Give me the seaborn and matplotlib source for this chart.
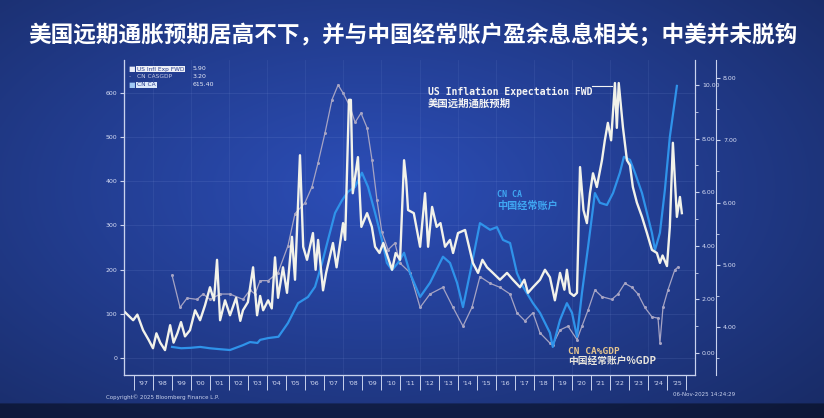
import numpy as np
import pandas as pd
import seaborn as sns
import matplotlib.pyplot as plt
from matplotlib.ticker import FixedLocator, FormatStrFormatter, MultipleLocator

# US inflation expectation FWD (right outer axis)
us_years = [1996.45, 1996.98, 1997.2, 1997.5, 1997.8, 1998.02, 1998.2, 1998.4, 1998.65, 1998.92,
            1999.1, 1999.3, 1999.49, 1999.7, 1999.96, 2000.23, 2000.49, 2000.75, 2001.01, 2001.22,
            2001.38, 2001.54, 2001.8, 2002.06, 2002.38, 2002.6, 2002.74, 2003.0, 2003.27, 2003.48,
            2003.64, 2003.8, 2004.06, 2004.25, 2004.42, 2004.58, 2004.84, 2005.05, 2005.31, 2005.47,
            2005.73, 2005.9, 2006.1, 2006.41, 2006.55, 2006.68, 2006.94, 2007.1, 2007.46, 2007.65,
            2007.99, 2008.1, 2008.3, 2008.4, 2008.5, 2008.77, 2008.95, 2009.25, 2009.5, 2009.67,
            2009.9, 2010.1, 2010.56, 2010.75, 2010.98, 2011.19, 2011.3, 2011.4, 2011.7, 2012.03,
            2012.29, 2012.45, 2012.66, 2012.9, 2013.1, 2013.34, 2013.6, 2013.76, 2014.02, 2014.39,
            2014.6, 2014.8, 2015.07, 2015.3, 2015.54, 2015.85, 2016.22, 2016.59, 2016.9, 2017.27,
            2017.5, 2017.69, 2017.95, 2018.32, 2018.58, 2018.84, 2019.1, 2019.37, 2019.6, 2019.73,
            2019.89, 2020.1, 2020.26, 2020.42, 2020.6, 2020.78, 2020.94, 2021.1, 2021.3, 2021.57,
            2021.72, 2021.88, 2022.05, 2022.25, 2022.35, 2022.45, 2022.67, 2022.88, 2023.04, 2023.19,
            2023.4, 2023.67, 2023.93, 2024.19, 2024.45, 2024.61, 2024.75, 2024.98, 2025.13, 2025.29,
            2025.5, 2025.66, 2025.76]
us_exp = [4.27, 4.11, 4.2, 3.95, 3.79, 3.66, 3.9, 3.75, 3.63, 4.03,
          3.75, 3.9, 4.08, 3.85, 3.95, 4.27, 4.11, 4.35, 4.64, 4.43,
          5.08, 4.11, 4.43, 4.19, 4.47, 4.1, 4.27, 4.4, 4.96, 4.19,
          4.5, 4.27, 4.43, 4.3, 5.12, 4.47, 4.96, 4.55, 5.45, 4.76,
          6.76, 5.29, 5.08, 5.51, 4.92, 5.4, 4.59, 4.87, 5.35, 4.96,
          5.67, 5.4, 7.65, 7.65, 6.15, 6.73, 5.61, 5.83, 5.61, 5.29,
          5.19, 5.35, 4.92, 5.19, 5.08, 6.68, 6.36, 5.88, 5.83, 5.29,
          6.15, 5.29, 5.93, 5.61, 5.67, 5.29, 5.4, 5.19, 5.51, 5.56,
          5.29, 5.03, 4.87, 5.08, 4.96, 4.87, 4.76, 4.87, 4.76, 4.64,
          4.76, 4.55, 4.64, 4.76, 4.92, 4.8, 4.43, 4.87, 4.6, 4.92,
          4.55, 4.5, 4.55, 6.57, 5.88, 5.67, 6.15, 6.47, 6.25, 6.68,
          7.0, 7.28, 7.0, 7.92, 7.2, 7.92, 7.21, 6.68, 6.6, 6.25,
          6.0, 5.77, 5.51, 5.24, 5.19, 5.03, 5.15, 4.98, 5.61, 6.96,
          5.77, 6.09, 5.83]

# China current account (left axis)
ca_years = [1999.02, 1999.5, 2000.0, 2000.5, 2001.0, 2001.5, 2002.06, 2002.74, 2003.11, 2003.5,
            2003.64, 2004.06, 2004.6, 2005.1, 2005.63, 2006.15, 2006.52, 2006.89, 2007.2, 2007.57,
            2007.94, 2008.25, 2008.62, 2008.98, 2009.3, 2009.67, 2010.03, 2010.29, 2010.56, 2010.87,
            2011.19, 2011.5, 2012.03, 2012.55, 2013.23, 2013.6, 2013.97, 2014.28, 2014.65, 2015.17,
            2015.7, 2016.06, 2016.38, 2016.75, 2017.11, 2017.43, 2017.95, 2018.32, 2018.84, 2018.99,
            2019.37, 2019.73, 2020.0, 2020.26, 2020.52, 2020.84, 2021.2, 2021.46, 2021.83, 2022.15,
            2022.51, 2022.72, 2023.04, 2023.3, 2023.67, 2023.93, 2024.19, 2024.35, 2024.61, 2024.87,
            2025.13, 2025.5]
cn_ca = [25, 22, 23, 25, 22, 20, 18, 29, 36, 34,
         41, 45, 48, 79, 124, 138, 161, 215, 267, 328,
         357, 376, 387, 419, 387, 328, 267, 215, 199, 215,
         238, 192, 138, 170, 229, 215, 170, 115, 192, 305,
         290, 296, 267, 260, 192, 161, 124, 102, 57, 25,
         86, 124, 102, 48, 147, 251, 373, 351, 346, 373,
         419, 455, 448, 419, 373, 328, 283, 244, 283, 380,
         500, 615.4]

# China current account % GDP (right inner axis)
gdp_years = [1999.02, 1999.44, 1999.81, 2000.33, 2000.65, 2001.01, 2001.54, 2002.06, 2002.74, 2003.11,
             2003.37, 2003.64, 2004.06, 2004.58, 2005.1, 2005.47, 2005.99, 2006.36, 2006.68, 2007.04,
             2007.41, 2007.73, 2007.99, 2008.35, 2008.62, 2008.93, 2009.25, 2009.51, 2009.77, 2010.03,
             2010.35, 2010.71, 2010.98, 2011.5, 2012.03, 2012.55, 2013.23, 2013.76, 2014.28, 2014.75,
             2015.17, 2015.7, 2016.22, 2016.75, 2017.11, 2017.53, 2017.95, 2018.32, 2018.84, 2018.99,
             2019.37, 2019.79, 2020.26, 2020.52, 2020.84, 2021.2, 2021.57, 2022.09, 2022.41, 2022.77,
             2023.14, 2023.46, 2023.82, 2024.19, 2024.51, 2024.61, 2024.77, 2025.03, 2025.39, 2025.55]
cn_ca_gdp = [2.9, 1.7, 2.05, 2.0, 2.2, 2.0, 2.2, 2.2, 2.0, 2.35,
             2.2, 2.7, 2.7, 3.0, 4.0, 5.2, 5.6, 6.2, 7.1, 8.2,
             9.45, 10.0, 9.7, 9.2, 8.6, 8.95, 8.4, 7.2, 5.7, 4.5,
             3.85, 4.1, 3.35, 3.0, 1.7, 2.2, 2.45, 1.7, 1.0, 1.7,
             2.85, 2.6, 2.45, 2.2, 1.5, 1.2, 1.5, 0.75, 0.37, 0.3,
             0.86, 1.0, 0.5, 1.0, 1.6, 2.35, 2.1, 2.0, 2.2, 2.6,
             2.45, 2.2, 1.7, 1.35, 1.3, 0.37, 1.7, 2.35, 3.1, 3.2]

year_labels = ["'%02d" % (y % 100) for y in range(1997, 2026)]
title = "美国远期通胀预期居高不下，并与中国经常账户盈余息息相关；中美并未脱钩"

W, H = 824, 418
def fx(x):
    return x / W
def fy(y):
    return 1 - y / H

cjk = ['Noto Sans CJK SC', 'DejaVu Sans']
mono = ['DejaVu Sans Mono', 'Noto Sans CJK SC']
axis_col = '#c9d2ee'

fig = plt.figure(figsize=(8.24, 4.18), dpi=100)

# screen-like blue background
bg = fig.add_axes([0, 0, 1, 1])
yy, xx = np.mgrid[0:1:200j, 0:1:400j]
r = np.sqrt(((xx - 0.45) / 0.75) ** 2 + ((yy - 0.45) / 0.8) ** 2)
shade = np.clip(1 - 0.45 * r, 0, 1)
base = np.array([44, 78, 184]) / 255
img = shade[..., None] * base[None, None, :]
img[yy > 0.965] *= 0.55
bg.imshow(img, aspect='auto', extent=[0, 1, 0, 1], origin='upper')
bg.axis('off')

ax = fig.add_axes([fx(124), fy(375), fx(695) - fx(124), fy(60) - fy(375)])
ax_m = ax.twinx()
ax_r = ax.twinx()
ax_r.spines['right'].set_position(('axes', (716 - 124) / (695 - 124)))
for a in (ax, ax_m, ax_r):
    a.patch.set_visible(False)
    for s in a.spines.values():
        s.set_color(axis_col)
        s.set_linewidth(0.8)
    a.spines['top'].set_visible(False)
ax_m.set_zorder(1)
ax.set_zorder(2)
ax_r.set_zorder(3)

df_gdp = pd.DataFrame({'year': gdp_years, 'value': cn_ca_gdp})
df_ca = pd.DataFrame({'year': ca_years, 'value': cn_ca})
df_us = pd.DataFrame({'year': us_years, 'value': us_exp})

sns.lineplot(data=df_gdp, x='year', y='value', ax=ax_m, color='#a6a4c4', linewidth=0.9,
             marker='o', markersize=2.2, markeredgewidth=0, estimator=None)
sns.lineplot(data=df_ca, x='year', y='value', ax=ax, color='#2f93ea', linewidth=1.6, estimator=None)
sns.lineplot(data=df_us, x='year', y='value', ax=ax_r, color='#f2f2ea', linewidth=1.7, estimator=None)

ax.set_xlim(1996.5, 2026.45)
ax.set_ylim(-38.5, 674)
ax_m.set_ylim(-0.82, 10.93)
ax_r.set_ylim(3.23, 8.29)

ax.xaxis.set_major_locator(FixedLocator(range(1997, 2027)))
ax.xaxis.set_minor_locator(FixedLocator([y + 0.5 for y in range(1997, 2026)]))
ax.set_xticklabels([], minor=False)
ax.set_xticklabels(year_labels, minor=True)
ax.tick_params(axis='x', which='major', length=11, color=axis_col, width=0.7)
ax.tick_params(axis='x', which='minor', length=0, labelsize=4.5, labelcolor='#d8def5', pad=4)

ax.yaxis.set_major_locator(MultipleLocator(100))
ax.tick_params(axis='y', length=3, color=axis_col, labelsize=4.5, labelcolor='#d8def5', pad=2)
ax_m.yaxis.set_major_locator(MultipleLocator(2))
ax_m.yaxis.set_minor_locator(MultipleLocator(1))
ax_m.yaxis.set_major_formatter(FormatStrFormatter('%.2f'))
ax_m.tick_params(axis='y', which='both', color=axis_col, labelsize=4.5, labelcolor='#d8def5', pad=2)
ax_m.tick_params(axis='y', which='major', length=3)
ax_m.tick_params(axis='y', which='minor', length=2)
ax_r.yaxis.set_major_locator(MultipleLocator(1))
ax_r.yaxis.set_minor_locator(MultipleLocator(0.5))
ax_r.yaxis.set_major_formatter(FormatStrFormatter('%.2f'))
ax_r.tick_params(axis='y', which='both', color=axis_col, labelsize=4.5, labelcolor='#d8def5', pad=2)
ax_r.tick_params(axis='y', which='major', length=3)
ax_r.tick_params(axis='y', which='minor', length=2)
for a in (ax, ax_m, ax_r):
    a.set_xlabel('')
    a.set_ylabel('')

ax.grid(True, axis='y', color='#8fa6e6', alpha=0.15, linewidth=0.6)
for gx in range(1998, 2026, 2):
    ax.axvline(gx, color='#8fa6e6', alpha=0.12, linewidth=0.6, zorder=0)

# title
fig.text(fx(28), fy(35), title, fontsize=16.3, color='white', fontweight='bold',
         family=cjk, va='center', ha='left')

# legend block
fig.text(fx(128), fy(69), '■', fontsize=5, color='#e8ecf8', va='center', family='DejaVu Sans')
fig.text(fx(137), fy(69), 'US Infl Exp FWD', fontsize=4.2, color='#2a3f8f', va='center',
         bbox=dict(boxstyle='square,pad=0.15', fc='#eef0f6', ec='none'))
fig.text(fx(193), fy(69), '5.90', fontsize=4.5, color='#e8ecf8', va='center')
fig.text(fx(129), fy(77), '-', fontsize=4.5, color='#a6a4c4', va='center')
fig.text(fx(137), fy(77), 'CN CASGDP', fontsize=4.2, color='#c9cde6', va='center')
fig.text(fx(193), fy(77), '3.20', fontsize=4.5, color='#e8ecf8', va='center')
fig.text(fx(128), fy(85), '■', fontsize=5, color='#9fc8f4', va='center', family='DejaVu Sans')
fig.text(fx(137), fy(85), 'CN CA', fontsize=4.2, color='#2a3f8f', va='center',
         bbox=dict(boxstyle='square,pad=0.15', fc='#dde9fa', ec='none'))
fig.text(fx(193), fy(85), '615.40', fontsize=4.5, color='#e8ecf8', va='center')

# annotations
fig.text(fx(428), fy(92), 'US Inflation Expectation FWD', fontsize=7, color='#f4f4f4',
         fontweight='bold', family=mono, va='center')
fig.text(fx(428), fy(104), '美国远期通胀预期', fontsize=7.5, color='#f4f4f4',
         fontweight='bold', family=cjk, va='center')
fig.add_artist(plt.Line2D([fx(592), fx(612)], [fy(86), fy(86)], color='#f4f4f4', linewidth=0.8))

fig.text(fx(497), fy(195), 'CN CA', fontsize=6, color='#3fa6f2', fontweight='bold',
         family=mono, va='center')
fig.text(fx(497), fy(206), '中国经常账户', fontsize=7.3, color='#3fa6f2', fontweight='bold',
         family=cjk, va='center')

fig.text(fx(568), fy(351), 'CN CA%GDP', fontsize=6.8, color='#e4c48e', fontweight='bold',
         family=mono, va='center')
fig.text(fx(568), fy(361), '中国经常账户%GDP', fontsize=7, color='#e8e4dc', fontweight='bold',
         family=cjk, va='center')

# footer
fig.text(fx(106), fy(397), 'Copyright© 2025 Bloomberg Finance L.P.', fontsize=4, color='#c9d2ee',
         va='center')
fig.text(fx(735), fy(394), '06-Nov-2025 14:24:29', fontsize=4, color='#c9d2ee',
         va='center', ha='right')

fig.savefig('out.png', dpi=100)
